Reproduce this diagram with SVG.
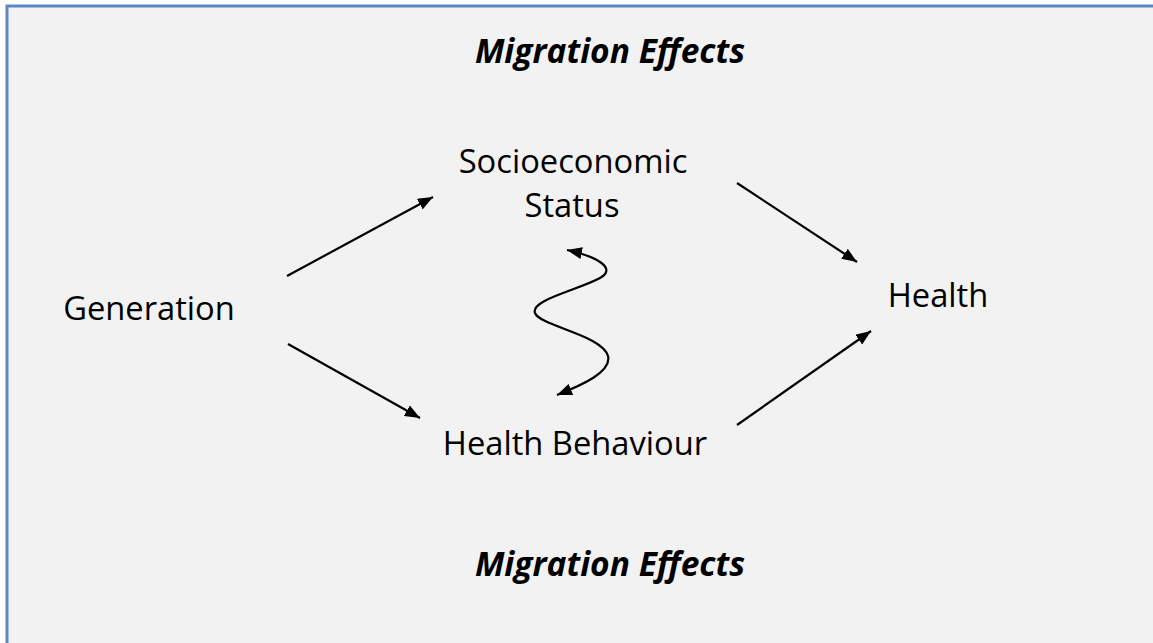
<svg xmlns="http://www.w3.org/2000/svg" width="1153" height="643" viewBox="0 0 1153 643">
<style>
.lbl{font-family:"Open Sans","Noto Sans",sans-serif;font-size:32.7px;fill:#000;text-anchor:middle}
.ttl{font-family:"Open Sans","Noto Sans",sans-serif;font-size:33.5px;font-weight:bold;font-style:italic;fill:#000;text-anchor:middle}
.edge{stroke:#000;stroke-width:2.2;fill:none}
</style>
<defs>
<marker id="ah" markerUnits="userSpaceOnUse" markerWidth="16" markerHeight="12" refX="15" refY="6" orient="auto-start-reverse">
<path d="M0,0 L15,6 L0,12 z" fill="#000"/>
</marker>
</defs>
<rect x="7" y="6" width="1160" height="650" fill="#F2F2F2" stroke="#5B87C6" stroke-width="3"/>
<g id="title-top"><text class="ttl" x="610" y="63">Migration Effects</text></g>
<g id="title-bottom"><text class="ttl" x="610" y="576">Migration Effects</text></g>
<g id="generation"><text class="lbl" x="149" y="320">Generation</text></g>
<g id="ses"><text class="lbl" x="573" y="173">Socioeconomic</text><text class="lbl" x="572" y="217">Status</text></g>
<g id="behaviour"><text class="lbl" x="575" y="455">Health Behaviour</text></g>
<g id="health"><text class="lbl" x="938" y="307">Health</text></g>
<g id="connectors">
<line class="edge" x1="287" y1="276" x2="433" y2="197" marker-end="url(#ah)"/>
<line class="edge" x1="288" y1="344" x2="420" y2="418" marker-end="url(#ah)"/>
<line class="edge" x1="737" y1="183" x2="857" y2="262" marker-end="url(#ah)"/>
<line class="edge" x1="737" y1="425" x2="871" y2="331" marker-end="url(#ah)"/>
<path class="edge" d="M567,250 C595,256 618,268 600,278 C578,290 530,300 535,313 C540,326 602,335 608,356 C612,372 582,385 557,395" marker-start="url(#ah)" marker-end="url(#ah)"/>
</g>
</svg>
